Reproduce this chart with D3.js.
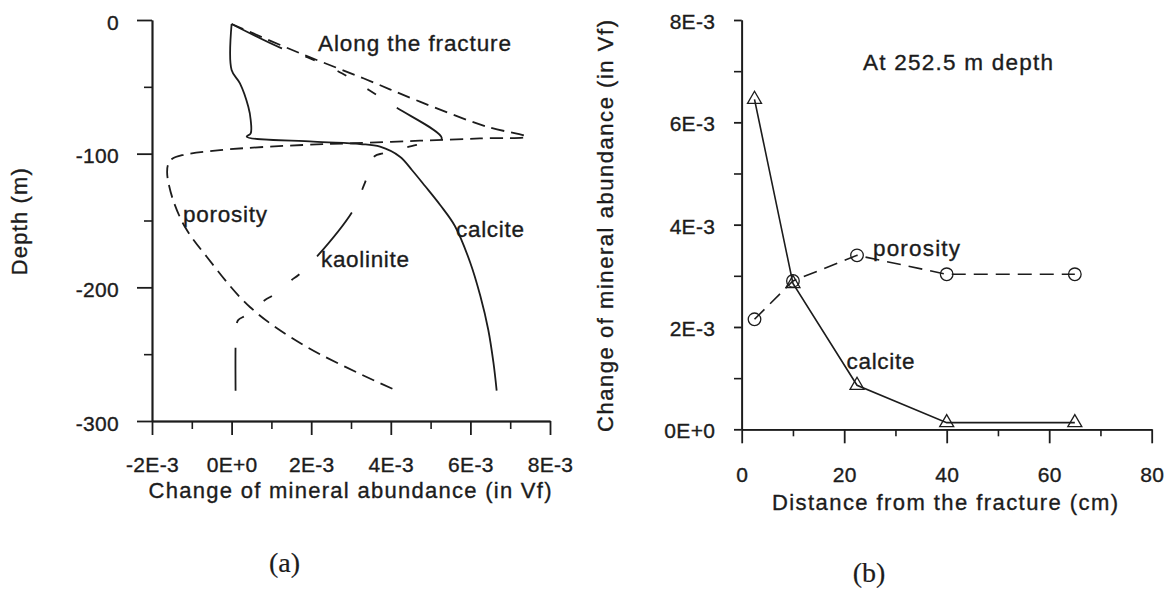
<!DOCTYPE html>
<html>
<head>
<meta charset="utf-8">
<script src="https://cdn.jsdelivr.net/npm/d3@7"></script>
<style>
  html, body { margin: 0; padding: 0; background: #ffffff; }
  svg { display: block; }
  text { font-family: "Liberation Sans", Arial, Helvetica, sans-serif; fill: #1c1c1c; stroke: #1c1c1c; stroke-width: 0.35px; }
  .serif { font-family: "Liberation Serif", "Times New Roman", serif; stroke-width: 0.2px; }
</style>
</head>
<body>
<svg id="chart" width="1166" height="590"></svg>
<script>
// ---------- Panel (a): profiles along the fracture, [change in Vf, depth m] ----------
const calciteProfile = [
  [0, -3], [0, -37.4], [0.21e-3, -47.4], [0.42e-3, -64.9], [0.48e-3, -74.8], [0.48e-3, -84.8],
  [0.38e-3, -87.3], [2.05e-3, -91.0], [3.23e-3, -92.8], [3.73e-3, -94.8], [4.23e-3, -102.3],
  [4.53e-3, -112.2], [4.86e-3, -124.2], [5.24e-3, -138.4], [5.61e-3, -154.1], [5.99e-3, -181.0],
  [6.25e-3, -206.5], [6.45e-3, -231.9], [6.58e-3, -256.6], [6.66e-3, -277.3]
];
const porosityProfile = [
  [0, -3], [1.72e-3, -24.9], [3.31e-3, -43.6], [4.73e-3, -61.1], [6.41e-3, -79.8], [7.41e-3, -87.3],
  [6.24e-3, -88.6], [4.73e-3, -90.3], [3.05e-3, -92.2], [1.79e-3, -93.5], [-0.29e-3, -97.3],
  [-1.22e-3, -101.0], [-1.50e-3, -104.0], [-1.60e-3, -108.5], [-1.62e-3, -113.7], [-1.60e-3, -119.7],
  [-1.47e-3, -134.7], [-1.17e-3, -154.9], [-0.62e-3, -177.3], [0.46e-3, -214.7], [1.89e-3, -244.6],
  [4.16e-3, -277.5]
];
const kaoliniteProfile = [
  [0, -3], [1.26e-3, -21.2], [1.97e-3, -28.7], [2.77e-3, -39.9], [3.45e-3, -52.4], [4.11e-3, -64.9],
  [5.28e-3, -88.5], [4.65e-3, -93.5], [4.40e-3, -95.2], [3.81e-3, -99.7], [3.60e-3, -101.7],
  [3.48e-3, -108.5], [3.39e-3, -118.4], [3.31e-3, -124.7], [3.06e-3, -142.1], [2.14e-3, -177.1],
  [1.68e-3, -190.8], [1.51e-3, -194.5], [1.05e-3, -205.7], [0.84e-3, -209.5], [0.38e-3, -220.7],
  [0.17e-3, -224.4], [0.12e-3, -228.2], [0.10e-3, -241.9], [0.10e-3, -277.3]
];
const leftXTicks = [-2e-3, 0, 2e-3, 4e-3, 6e-3, 8e-3];
const leftXTickLabels = ["-2E-3", "0E+0", "2E-3", "4E-3", "6E-3", "8E-3"];
const leftXMinor = [-1e-3, 1e-3, 3e-3, 5e-3, 7e-3];
const leftYTicks = [0, -100, -200, -300];
const leftYTickLabels = ["0", "-100", "-200", "-300"];
const leftYMinor = [-50, -150, -250];

// ---------- Panel (b): profiles at 252.5 m depth ----------
const distanceCm = [2.5, 10, 22.5, 40, 65];
const calciteAtDepth = [6.45e-3, 2.85e-3, 0.86e-3, 0.13e-3, 0.13e-3];
const porosityAtDepth = [2.15e-3, 2.9e-3, 3.4e-3, 3.03e-3, 3.03e-3];
const rightXTicks = [0, 20, 40, 60, 80];
const rightXTickLabels = ["0", "20", "40", "60", "80"];
const rightXMinor = [10, 30, 50, 70];
const rightYTicks = [0, 2e-3, 4e-3, 6e-3, 8e-3];
const rightYTickLabels = ["0E+0", "2E-3", "4E-3", "6E-3", "8E-3"];
const rightYMinor = [1e-3, 3e-3, 5e-3, 7e-3];

const INK = "#1c1c1c";
const svg = d3.select("#chart");

function styleAxis(g, width) {
  g.select(".domain").attr("stroke", INK).attr("stroke-width", width);
  g.selectAll(".tick line").attr("stroke", INK).attr("stroke-width", width);
}
function styleTickText(sel) {
  sel.attr("font-size", 21).attr("letter-spacing", 0.3).attr("fill", INK)
    .style("font-family", "Liberation Sans, Arial, sans-serif");
}

// ===== Panel (a) =====
const xA = d3.scaleLinear().domain([-2e-3, 8e-3]).range([152, 550]);
const yA = d3.scaleLinear().domain([0, -300]).range([20, 421]);
const gA = svg.append("g");

// minor ticks first, then major axes
gA.append("g").attr("transform", `translate(${xA(-2e-3)},0)`)
  .call(d3.axisLeft(yA).tickValues(leftYMinor).tickSize(8).tickSizeOuter(0).tickFormat(""))
  .call(g => styleAxis(g, 1.6));
const axYA = gA.append("g").attr("transform", `translate(${xA(-2e-3)},0)`)
  .call(d3.axisLeft(yA).tickValues(leftYTicks).tickSize(15).tickSizeOuter(0)
    .tickFormat((d, i) => leftYTickLabels[i]))
  .call(g => styleAxis(g, 1.8));
axYA.selectAll(".tick text").attr("x", -33).attr("dy", null).attr("y", 9).call(styleTickText);

gA.append("g").attr("transform", `translate(0,${yA(-300)})`)
  .call(d3.axisBottom(xA).tickValues(leftXMinor).tickSize(8).tickSizeOuter(0).tickFormat(""))
  .call(g => styleAxis(g, 1.6));
const axXA = gA.append("g").attr("transform", `translate(0,${yA(-300)})`)
  .call(d3.axisBottom(xA).tickValues(leftXTicks).tickSize(14).tickSizeOuter(0)
    .tickFormat((d, i) => leftXTickLabels[i]))
  .call(g => styleAxis(g, 1.8));
axXA.selectAll(".tick text").attr("y", 51).attr("dy", null).call(styleTickText);

const lineA = d3.line().x(d => xA(d[0])).y(d => yA(d[1])).curve(d3.curveCatmullRom.alpha(0.5));

gA.append("path").datum(calciteProfile).attr("d", lineA)
  .attr("fill", "none").attr("stroke", INK).attr("stroke-width", 1.8);
gA.append("path").datum(porosityProfile).attr("d", lineA)
  .attr("fill", "none").attr("stroke", INK).attr("stroke-width", 1.8)
  .attr("stroke-dasharray", "13,7");
gA.append("path").datum(kaoliniteProfile).attr("d", lineA)
  .attr("fill", "none").attr("stroke", INK).attr("stroke-width", 1.8)
  .attr("stroke-dasharray", "56,25,10,25,10,25,10,25");

function label(x, y, str, size, len, cls) {
  const t = svg.append("text").attr("x", x).attr("y", y).attr("font-size", size).text(str);
  if (len) t.attr("textLength", len).attr("lengthAdjust", "spacing");
  if (cls) t.attr("class", cls);
  return t;
}

label(318, 50.7, "Along the fracture", 22.5, 193);
label(183, 221.7, "porosity", 22.5, 84);
label(456, 236.7, "calcite", 22.5, 68);
label(321, 267.3, "kaolinite", 22.5, 88);

label(350, 498.3, "Change of mineral abundance (in Vf)", 22, 403).attr("text-anchor", "middle");
svg.append("text").attr("transform", "translate(27.3,221.7) rotate(-90)")
  .attr("text-anchor", "middle").attr("font-size", 22)
  .attr("textLength", 107).attr("lengthAdjust", "spacing").text("Depth (m)");
label(284.5, 571.5, "(a)", 28, null, "serif").attr("text-anchor", "middle");

// ===== Panel (b) =====
const xB = d3.scaleLinear().domain([0, 80]).range([741.7, 1151.7]);
const yB = d3.scaleLinear().domain([0, 8e-3]).range([429.3, 20]);
const gB = svg.append("g");

gB.append("g").attr("transform", `translate(${xB(0)},0)`)
  .call(d3.axisLeft(yB).tickValues(rightYMinor).tickSize(7.7).tickSizeOuter(0).tickFormat(""))
  .call(g => styleAxis(g, 1.6));
const axYB = gB.append("g").attr("transform", `translate(${xB(0)},0)`)
  .call(d3.axisLeft(yB).tickValues(rightYTicks).tickSize(7.7).tickSizeOuter(0)
    .tickFormat((d, i) => rightYTickLabels[i]))
  .call(g => styleAxis(g, 1.8));
axYB.selectAll(".tick text").attr("x", -26.5).attr("dy", null).attr("y", 8.5).call(styleTickText);

gB.append("g").attr("transform", `translate(0,${yB(0)})`)
  .call(d3.axisBottom(xB).tickValues(rightXMinor).tickSize(7).tickSizeOuter(0).tickFormat(""))
  .call(g => styleAxis(g, 1.6));
const axXB = gB.append("g").attr("transform", `translate(0,${yB(0)})`)
  .call(d3.axisBottom(xB).tickValues(rightXTicks).tickSize(14).tickSizeOuter(0)
    .tickFormat((d, i) => rightXTickLabels[i]))
  .call(g => styleAxis(g, 1.8));
axXB.selectAll(".tick text").attr("y", 52.4).attr("dy", null).call(styleTickText);

const lineB = d3.line().x(d => xB(d[0])).y(d => yB(d[1]));
const calcitePts = distanceCm.map((d, i) => [d, calciteAtDepth[i]]);
const porosityPts = distanceCm.map((d, i) => [d, porosityAtDepth[i]]);

gB.append("path").datum(porosityPts).attr("d", lineB)
  .attr("fill", "none").attr("stroke", INK).attr("stroke-width", 1.6)
  .attr("stroke-dasharray", "14,8");
gB.append("path").datum(calcitePts).attr("d", lineB)
  .attr("fill", "none").attr("stroke", INK).attr("stroke-width", 1.6);

gB.selectAll("circle.por").data(porosityPts).join("circle").attr("class", "por")
  .attr("cx", d => xB(d[0])).attr("cy", d => yB(d[1])).attr("r", 6.3)
  .attr("fill", "none").attr("stroke", INK).attr("stroke-width", 1.3);
const tri = d3.symbol().type(d3.symbolTriangle).size(85);
gB.selectAll("path.cal").data(calcitePts).join("path").attr("class", "cal")
  .attr("transform", d => `translate(${xB(d[0])},${yB(d[1])})`)
  .attr("d", tri).attr("fill", "none").attr("stroke", INK).attr("stroke-width", 1.3);

label(863, 70, "At 252.5 m depth", 22.5, 190);
label(873, 255.5, "porosity", 22.5, 87);
label(846.5, 368.5, "calcite", 22.5, 68);

label(945, 510, "Distance from the fracture (cm)", 22, 346).attr("text-anchor", "middle");
svg.append("text").attr("transform", "translate(613.3,226) rotate(-90)")
  .attr("text-anchor", "middle").attr("font-size", 22)
  .attr("textLength", 412).attr("lengthAdjust", "spacing")
  .text("Change of mineral abundance (in Vf)");
label(869, 582, "(b)", 28, null, "serif").attr("text-anchor", "middle");
</script>
</body>
</html>
